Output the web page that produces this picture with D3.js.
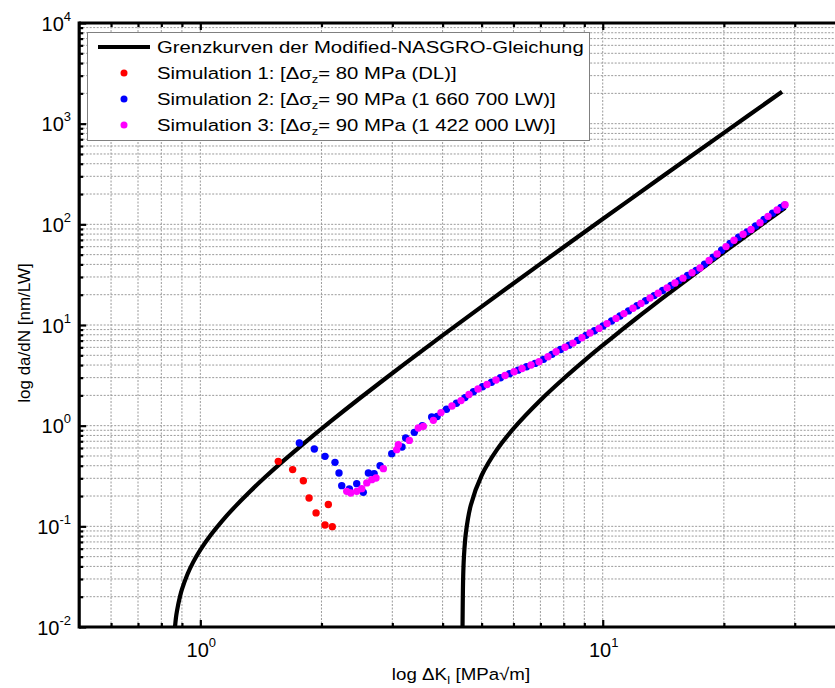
<!DOCTYPE html>
<html><head><meta charset="utf-8">
<script src="https://cdn.jsdelivr.net/npm/d3@7"></script>
<style>body{margin:0;background:#fff;} svg{display:block;font-family:Arial,"Liberation Sans",sans-serif;}</style>
</head><body><svg id="c" width="835" height="688"></svg>
<script>
// ---------- data ----------
const upperCurve = [[0.865,0.01],[0.87,0.01246],[0.875,0.01446],[0.89,0.02004],[0.90,0.0236],[0.93,0.0338],[0.96,0.0441],[1.0,0.0583],[1.06,0.0815],[1.132,0.1128],[1.22,0.157],[1.329,0.222],[1.45,0.3086],[1.6,0.439],[1.8,0.657],[2.1,1.09],[2.5,1.894],[3.2,4.04],[4.0,7.88],[5.16,16.69],[7.0,40.5],[10,112.8],[13.7,276.8],[20,809.6],[27.9,2075]];
const lowerCurve = [[4.4833,0.01],[4.5,0.0318],[4.52,0.0501],[4.57,0.0861],[4.7,0.1619],[5.0,0.32],[5.46,0.578],[6.0,0.9345],[7.0,1.789],[8.0,2.939],[9.0,4.425],[9.85,5.98],[11.17,8.98],[12.5,12.8],[14,18.15],[16,27.2],[18,38.66],[19.9,52],[22,69.8],[24,89.9],[26,113.3],[28.4,146.1]];
const sim1 = [[1.562,0.442],[1.696,0.366],[1.803,0.284],[1.863,0.191],[1.939,0.136],[2.041,0.103],[2.128,0.0993],[2.080,0.165]];
const sim2 = [[1.762,0.673],[1.920,0.587],[2.041,0.4956],[2.161,0.432],[2.211,0.339],[2.246,0.2536],[2.346,0.235],[2.447,0.2655],[2.541,0.2176],[2.616,0.339],[2.703,0.334],[2.797,0.4007],[2.99,0.527],[3.171,0.6144],[3.238,0.755],[3.402,0.858],[3.562,1.0],[3.758,1.22],
 [3.877,1.234],[4.09,1.455],[4.33,1.669],[4.547,1.90],[4.773,2.17],[5.026,2.437],[5.292,2.70],[5.57,2.99],[5.866,3.287],[6.16,3.56],[6.466,3.85],[6.788,4.157],[7.125,4.56],[7.48,5.11],[7.854,5.71],[8.247,6.31],[8.657,7.03],[9.087,7.89],[9.54,8.78],[10.02,9.77],[10.52,10.96],[11.04,12.29],[11.59,13.8],[12.17,15.51],[12.78,17.43],[13.42,19.59],[14.09,22.0],[14.78,24.73],[15.47,27.62],[16.25,31.04],[17.06,34.85],[17.91,40.1],[18.81,47.1],[19.74,55.25],[20.72,64.6],[21.76,74.4],[22.85,84.2],[23.98,96.1],[25.17,111.6],[26.43,129.1],[27.74,147.3],[28.3,155]];
const sim3 = [[2.311,0.2227],[2.364,0.2146],[2.447,0.2227],[2.518,0.2367],[2.592,0.27],[2.667,0.291],[2.733,0.3025],[2.85,0.374],[3.076,0.578],[3.105,0.648],[3.307,0.714],[3.481,0.949],[3.583,0.984],[3.794,1.129],
 [3.963,1.349],[4.22,1.569],[4.445,1.775],[4.652,2.037],[4.898,2.314],[5.158,2.566],[5.43,2.843],[5.717,3.152],[6.02,3.428],[6.302,3.70],[6.635,4.008],[6.945,4.311],[7.31,4.833],[7.655,5.42],[8.059,6.02],[8.44,6.61],[8.88,7.48],[9.30,8.33],[9.79,9.25],[10.25,10.32],[10.79,11.63],[11.29,12.98],[11.89,14.68],[12.45,16.39],[13.11,18.54],[13.73,20.69],[14.45,23.4],[15.12,26.13],[15.83,29.2],[16.67,33.0],[17.45,36.8],[18.38,43.7],[19.24,50.8],[20.25,60.1],[21.2,69.5],[22.33,79.7],[23.37,89.0],[24.6,103.7],[25.75,120.1],[27.12,138.7],[28.38,156.5]];
const xDomain = [0.5, 40];
const yDomain = [0.01, 10000];
const xMajorTicks = [1, 10];
const xMajorExp = ["0", "1"];
const xMinorTicks = [0.6,0.7,0.8,0.9,2,3,4,5,6,7,8,9,20,30];
const yMajorTicks = [0.01,0.1,1,10,100,1000,10000];
const yMajorExp = ["-2","-1","0","1","2","3","4"];
const yMinorTicks = [];
[0.01,0.1,1,10,100,1000].forEach(d=>{for(let k=2;k<=9;k++) yMinorTicks.push(+(d*k).toPrecision(3));});
const legendItems = [
  {type:"line", color:"#000", parts:[["Grenzkurven der Modified-NASGRO-Gleichung",""]]},
  {type:"dot", color:"#ff0000", parts:[["Simulation 1: [Δσ",""],["z","sub"],["= 80 MPa (DL)]",""]]},
  {type:"dot", color:"#0000ff", parts:[["Simulation 2: [Δσ",""],["z","sub"],["= 90 MPa (1 660 700 LW)]",""]]},
  {type:"dot", color:"#ff00ff", parts:[["Simulation 3: [Δσ",""],["z","sub"],["= 90 MPa (1 422 000 LW)]",""]]}
];

// ---------- layout ----------
const L = 79.2, R = 845, T = 23, B = 627;
const svg = d3.select("#c");
const x = d3.scaleLog().domain(xDomain).range([L, R]);
const y = d3.scaleLog().domain(yDomain).range([B, T]);

svg.append("defs").append("clipPath").attr("id","clip")
  .append("rect").attr("x",L).attr("y",T).attr("width",R-L).attr("height",B-T);

// grid
const grid = svg.append("g").attr("stroke","#9a9a9a").attr("stroke-width",1).attr("stroke-dasharray","2,1.5");
grid.selectAll("line.gx").data(xMajorTicks.concat(xMinorTicks)).join("line")
  .attr("x1",d=>x(d)).attr("x2",d=>x(d)).attr("y1",T).attr("y2",B);
grid.selectAll("line.gy").data(yMajorTicks.concat(yMinorTicks).filter(d=>d>yDomain[0]&&d<yDomain[1])).join("line")
  .attr("class","gy").attr("x1",L).attr("x2",R).attr("y1",d=>y(d)).attr("y2",d=>y(d));

// curves
const line = d3.line().x(d=>x(d[0])).y(d=>y(d[1])).curve(d3.curveCatmullRom.alpha(0.5));
const cg = svg.append("g").attr("clip-path","url(#clip)");
[upperCurve, lowerCurve].forEach(c=>{
  cg.append("path").attr("d",line(c)).attr("fill","none").attr("stroke","#000").attr("stroke-width",4.2);
});

// points
const pg = svg.append("g").attr("clip-path","url(#clip)");
[[sim1,"#ff0000"],[sim2,"#0000ff"],[sim3,"#ff00ff"]].forEach(([s,c])=>{
  pg.selectAll(null).data(s).join("circle").attr("cx",d=>x(d[0])).attr("cy",d=>y(d[1])).attr("r",3.7).attr("fill",c);
});

// axes (inward ticks)
function drawAxis(gen, pos, vals, size){
  const g = svg.append("g").attr("transform",pos).call(gen.tickValues(vals).tickSize(size).tickFormat(""));
  g.select(".domain").remove();
  g.selectAll(".tick line").attr("stroke","#000").attr("stroke-width",2.2);
}
drawAxis(d3.axisBottom(x), `translate(0,${B})`, xMajorTicks, -7);
drawAxis(d3.axisBottom(x), `translate(0,${B})`, xMinorTicks, -4);
drawAxis(d3.axisTop(x), `translate(0,${T})`, xMajorTicks, -7);
drawAxis(d3.axisTop(x), `translate(0,${T})`, xMinorTicks, -4);
drawAxis(d3.axisLeft(y), `translate(${L},0)`, yMajorTicks, -7);
drawAxis(d3.axisLeft(y), `translate(${L},0)`, yMinorTicks, -4);

svg.append("line").attr("x1",L).attr("x2",R).attr("y1",B).attr("y2",B).attr("stroke","#000").attr("stroke-width",3.2);
svg.append("line").attr("x1",L).attr("x2",R).attr("y1",T).attr("y2",T).attr("stroke","#000").attr("stroke-width",3.2);
svg.append("line").attr("x1",L).attr("x2",L).attr("y1",T-1.6).attr("y2",B+1.6).attr("stroke","#000").attr("stroke-width",3.2);

// tick labels
xMajorTicks.forEach((v,i)=>{
  const t = svg.append("text").attr("x",x(v)+1).attr("y",657).attr("text-anchor","middle").attr("font-size",20).attr("fill","#000");
  t.append("tspan").text("10");
  t.append("tspan").attr("font-size",13).attr("dy",-10).text(xMajorExp[i]);
});
yMajorTicks.forEach((v,i)=>{
  const t = svg.append("text").attr("x",71).attr("y",y(v)+7.5).attr("text-anchor","end").attr("font-size",20).attr("fill","#000");
  t.append("tspan").text("10");
  t.append("tspan").attr("font-size",13).attr("dy",-10).text(yMajorExp[i]);
});

// axis titles
const xt = svg.append("text").attr("transform","translate(461,680) scale(1.1,1)").attr("text-anchor","middle").attr("font-size",17);
xt.append("tspan").text("log ΔK");
xt.append("tspan").attr("font-size",11).attr("dy",4).text("I");
xt.append("tspan").attr("dy",-4).text(" [MPa√m]");
svg.append("text").attr("transform","translate(30,333) rotate(-90)").attr("text-anchor","middle").attr("font-size",17).text("log da/dN [nm/LW]");

// legend
const lg = svg.append("g");
lg.append("rect").attr("x",87.5).attr("y",32.5).attr("width",502).attr("height",108).attr("fill","#fff").attr("stroke","#808080").attr("stroke-width",1);
legendItems.forEach((it,i)=>{
  const cy = 47 + i*26;
  if(it.type==="line") lg.append("line").attr("x1",98).attr("x2",150).attr("y1",cy).attr("y2",cy).attr("stroke",it.color).attr("stroke-width",4.2);
  else lg.append("circle").attr("cx",124).attr("cy",cy).attr("r",3.5).attr("fill",it.color);
  const t = lg.append("text").attr("transform",`translate(157,${cy+6}) scale(1.175,1)`).attr("font-size",17.3);
  let shifted = false;
  it.parts.forEach(([s,k])=>{
    const ts = t.append("tspan").text(s);
    if(k==="sub"){ts.attr("font-size",11).attr("dy",4); shifted=true;}
    else if(shifted){ts.attr("dy",-4); shifted=false;}
  });
});
</script></body></html>
